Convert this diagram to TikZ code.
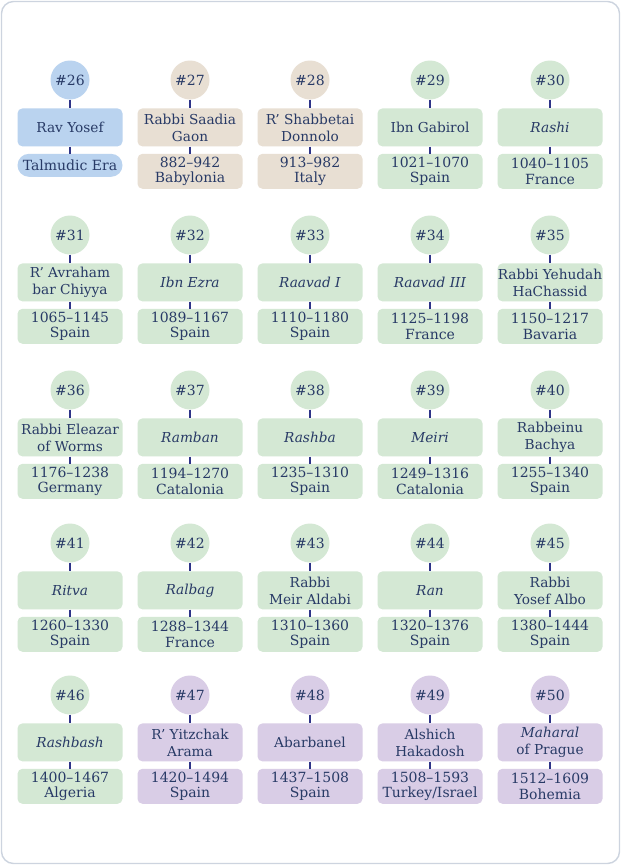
\documentclass[tikz,border=0pt]{standalone}
\usepackage{fontspec}
\setmainfont{DejaVu Serif}
\usepackage{tikz}
\usetikzlibrary{positioning}
\definecolor{gnBlue}{HTML}{BAD3EF}
\definecolor{gnSand}{HTML}{E8DFD3}
\definecolor{gnSage}{HTML}{D4E8D4}
\definecolor{gnLilac}{HTML}{D9CDE6}
\definecolor{gnInk}{HTML}{283A66}
\definecolor{gnLink}{HTML}{2E3488}
\definecolor{gnFrame}{HTML}{CDD4DF}
\tikzset{
  badge/.style={
    circle, fill=#1,
    minimum size=39pt, inner sep=0pt,
    text=gnInk, font=\fontsize{14}{16}\selectfont
  },
  namebox/.style={
    rectangle, rounded corners=5pt,
    fill=#1,
    minimum width=105pt, minimum height=38pt,
    inner xsep=0pt, inner ysep=1pt, align=center,
    text=gnInk, font=\fontsize{13.7}{17}\selectfont
  },
  datebox/.style={
    rectangle, rounded corners=5pt,
    fill=#1,
    minimum width=105pt, minimum height=35pt,
    inner xsep=0pt, inner ysep=1pt, align=center,
    text=gnInk, font=\fontsize{14}{15.5}\selectfont
  },
  erapill/.style={
    rectangle, rounded corners=11.5pt,
    fill=#1,
    minimum width=105pt, minimum height=23pt,
    inner sep=1pt, align=center,
    text=gnInk, font=\fontsize{14}{16}\selectfont
  },
  link/.style={gnLink, line width=2.6pt}
}

\begin{document}
\begin{tikzpicture}[x=1pt, y=-1pt]
  \useasboundingbox (0,0) rectangle (621,865);
  \draw[gnFrame, line width=1.4pt, fill=white, rounded corners=12pt] (1.5,1.5) rectangle (619.5,863.5);

  % row 1
  \node[badge=gnBlue] (c26) at (70,80) {\#26};
  \node[namebox=gnBlue, below=8.5pt of c26] (n26) {Rav Yosef};
  \node[erapill=gnBlue, below=7pt of n26] (d26) {Talmudic Era};
  \node[badge=gnSand] (c27) at (190,80) {\#27};
  \node[namebox=gnSand, below=8.5pt of c27] (n27) {Rabbi Saadia\\Gaon};
  \node[datebox=gnSand, below=7pt of n27] (d27) {882--942\\Babylonia};
  \node[badge=gnSand] (c28) at (310,80) {\#28};
  \node[namebox=gnSand, below=8.5pt of c28] (n28) {R' Shabbetai\\Donnolo};
  \node[datebox=gnSand, below=7pt of n28] (d28) {913--982\\Italy};
  \node[badge=gnSage] (c29) at (430,80) {\#29};
  \node[namebox=gnSage, below=8.5pt of c29] (n29) {Ibn Gabirol};
  \node[datebox=gnSage, below=7pt of n29] (d29) {1021--1070\\Spain};
  \node[badge=gnSage] (c30) at (550,80) {\#30};
  \node[namebox=gnSage, below=8.5pt of c30] (n30) {\textit{Rashi}};
  \node[datebox=gnSage, below=7pt of n30] (d30) {1040--1105\\France};

  % row 2
  \node[badge=gnSage] (c31) at (70,235) {\#31};
  \node[namebox=gnSage, below=8.5pt of c31] (n31) {R' Avraham\\bar Chiyya};
  \node[datebox=gnSage, below=7pt of n31] (d31) {1065--1145\\Spain};
  \node[badge=gnSage] (c32) at (190,235) {\#32};
  \node[namebox=gnSage, below=8.5pt of c32] (n32) {\textit{Ibn Ezra}};
  \node[datebox=gnSage, below=7pt of n32] (d32) {1089--1167\\Spain};
  \node[badge=gnSage] (c33) at (310,235) {\#33};
  \node[namebox=gnSage, below=8.5pt of c33] (n33) {\textit{Raavad I}};
  \node[datebox=gnSage, below=7pt of n33] (d33) {1110--1180\\Spain};
  \node[badge=gnSage] (c34) at (430,235) {\#34};
  \node[namebox=gnSage, below=8.5pt of c34] (n34) {\textit{Raavad III}};
  \node[datebox=gnSage, below=7pt of n34] (d34) {1125--1198\\France};
  \node[badge=gnSage] (c35) at (550,235) {\#35};
  \node[namebox=gnSage, below=8.5pt of c35] (n35) {Rabbi Yehudah\\HaChassid};
  \node[datebox=gnSage, below=7pt of n35] (d35) {1150--1217\\Bavaria};

  % row 3
  \node[badge=gnSage] (c36) at (70,390) {\#36};
  \node[namebox=gnSage, below=8.5pt of c36] (n36) {Rabbi Eleazar\\of Worms};
  \node[datebox=gnSage, below=7pt of n36] (d36) {1176--1238\\Germany};
  \node[badge=gnSage] (c37) at (190,390) {\#37};
  \node[namebox=gnSage, below=8.5pt of c37] (n37) {\textit{Ramban}};
  \node[datebox=gnSage, below=7pt of n37] (d37) {1194--1270\\Catalonia};
  \node[badge=gnSage] (c38) at (310,390) {\#38};
  \node[namebox=gnSage, below=8.5pt of c38] (n38) {\textit{Rashba}};
  \node[datebox=gnSage, below=7pt of n38] (d38) {1235--1310\\Spain};
  \node[badge=gnSage] (c39) at (430,390) {\#39};
  \node[namebox=gnSage, below=8.5pt of c39] (n39) {\textit{Meiri}};
  \node[datebox=gnSage, below=7pt of n39] (d39) {1249--1316\\Catalonia};
  \node[badge=gnSage] (c40) at (550,390) {\#40};
  \node[namebox=gnSage, below=8.5pt of c40] (n40) {Rabbeinu\\Bachya};
  \node[datebox=gnSage, below=7pt of n40] (d40) {1255--1340\\Spain};

  % row 4
  \node[badge=gnSage] (c41) at (70,543) {\#41};
  \node[namebox=gnSage, below=8.5pt of c41] (n41) {\textit{Ritva}};
  \node[datebox=gnSage, below=7pt of n41] (d41) {1260--1330\\Spain};
  \node[badge=gnSage] (c42) at (190,543) {\#42};
  \node[namebox=gnSage, below=8.5pt of c42] (n42) {\textit{Ralbag}};
  \node[datebox=gnSage, below=7pt of n42] (d42) {1288--1344\\France};
  \node[badge=gnSage] (c43) at (310,543) {\#43};
  \node[namebox=gnSage, below=8.5pt of c43] (n43) {Rabbi\\Meir Aldabi};
  \node[datebox=gnSage, below=7pt of n43] (d43) {1310--1360\\Spain};
  \node[badge=gnSage] (c44) at (430,543) {\#44};
  \node[namebox=gnSage, below=8.5pt of c44] (n44) {\textit{Ran}};
  \node[datebox=gnSage, below=7pt of n44] (d44) {1320--1376\\Spain};
  \node[badge=gnSage] (c45) at (550,543) {\#45};
  \node[namebox=gnSage, below=8.5pt of c45] (n45) {Rabbi\\Yosef Albo};
  \node[datebox=gnSage, below=7pt of n45] (d45) {1380--1444\\Spain};

  % row 5
  \node[badge=gnSage] (c46) at (70,695) {\#46};
  \node[namebox=gnSage, below=8.5pt of c46] (n46) {\textit{Rashbash}};
  \node[datebox=gnSage, below=7pt of n46] (d46) {1400--1467\\Algeria};
  \node[badge=gnLilac] (c47) at (190,695) {\#47};
  \node[namebox=gnLilac, below=8.5pt of c47] (n47) {R' Yitzchak\\Arama};
  \node[datebox=gnLilac, below=7pt of n47] (d47) {1420--1494\\Spain};
  \node[badge=gnLilac] (c48) at (310,695) {\#48};
  \node[namebox=gnLilac, below=8.5pt of c48] (n48) {Abarbanel};
  \node[datebox=gnLilac, below=7pt of n48] (d48) {1437--1508\\Spain};
  \node[badge=gnLilac] (c49) at (430,695) {\#49};
  \node[namebox=gnLilac, below=8.5pt of c49] (n49) {Alshich\\Hakadosh};
  \node[datebox=gnLilac, below=7pt of n49] (d49) {1508--1593\\Turkey/Israel};
  \node[badge=gnLilac] (c50) at (550,695) {\#50};
  \node[namebox=gnLilac, below=8.5pt of c50] (n50) {\textit{Maharal}\\of Prague};
  \node[datebox=gnLilac, below=7pt of n50] (d50) {1512--1609\\Bohemia};

  % stems
  \draw[link] (c26) -- (n26) (n26) -- (d26);
  \draw[link] (c27) -- (n27) (n27) -- (d27);
  \draw[link] (c28) -- (n28) (n28) -- (d28);
  \draw[link] (c29) -- (n29) (n29) -- (d29);
  \draw[link] (c30) -- (n30) (n30) -- (d30);
  \draw[link] (c31) -- (n31) (n31) -- (d31);
  \draw[link] (c32) -- (n32) (n32) -- (d32);
  \draw[link] (c33) -- (n33) (n33) -- (d33);
  \draw[link] (c34) -- (n34) (n34) -- (d34);
  \draw[link] (c35) -- (n35) (n35) -- (d35);
  \draw[link] (c36) -- (n36) (n36) -- (d36);
  \draw[link] (c37) -- (n37) (n37) -- (d37);
  \draw[link] (c38) -- (n38) (n38) -- (d38);
  \draw[link] (c39) -- (n39) (n39) -- (d39);
  \draw[link] (c40) -- (n40) (n40) -- (d40);
  \draw[link] (c41) -- (n41) (n41) -- (d41);
  \draw[link] (c42) -- (n42) (n42) -- (d42);
  \draw[link] (c43) -- (n43) (n43) -- (d43);
  \draw[link] (c44) -- (n44) (n44) -- (d44);
  \draw[link] (c45) -- (n45) (n45) -- (d45);
  \draw[link] (c46) -- (n46) (n46) -- (d46);
  \draw[link] (c47) -- (n47) (n47) -- (d47);
  \draw[link] (c48) -- (n48) (n48) -- (d48);
  \draw[link] (c49) -- (n49) (n49) -- (d49);
  \draw[link] (c50) -- (n50) (n50) -- (d50);
\end{tikzpicture}
\end{document}
